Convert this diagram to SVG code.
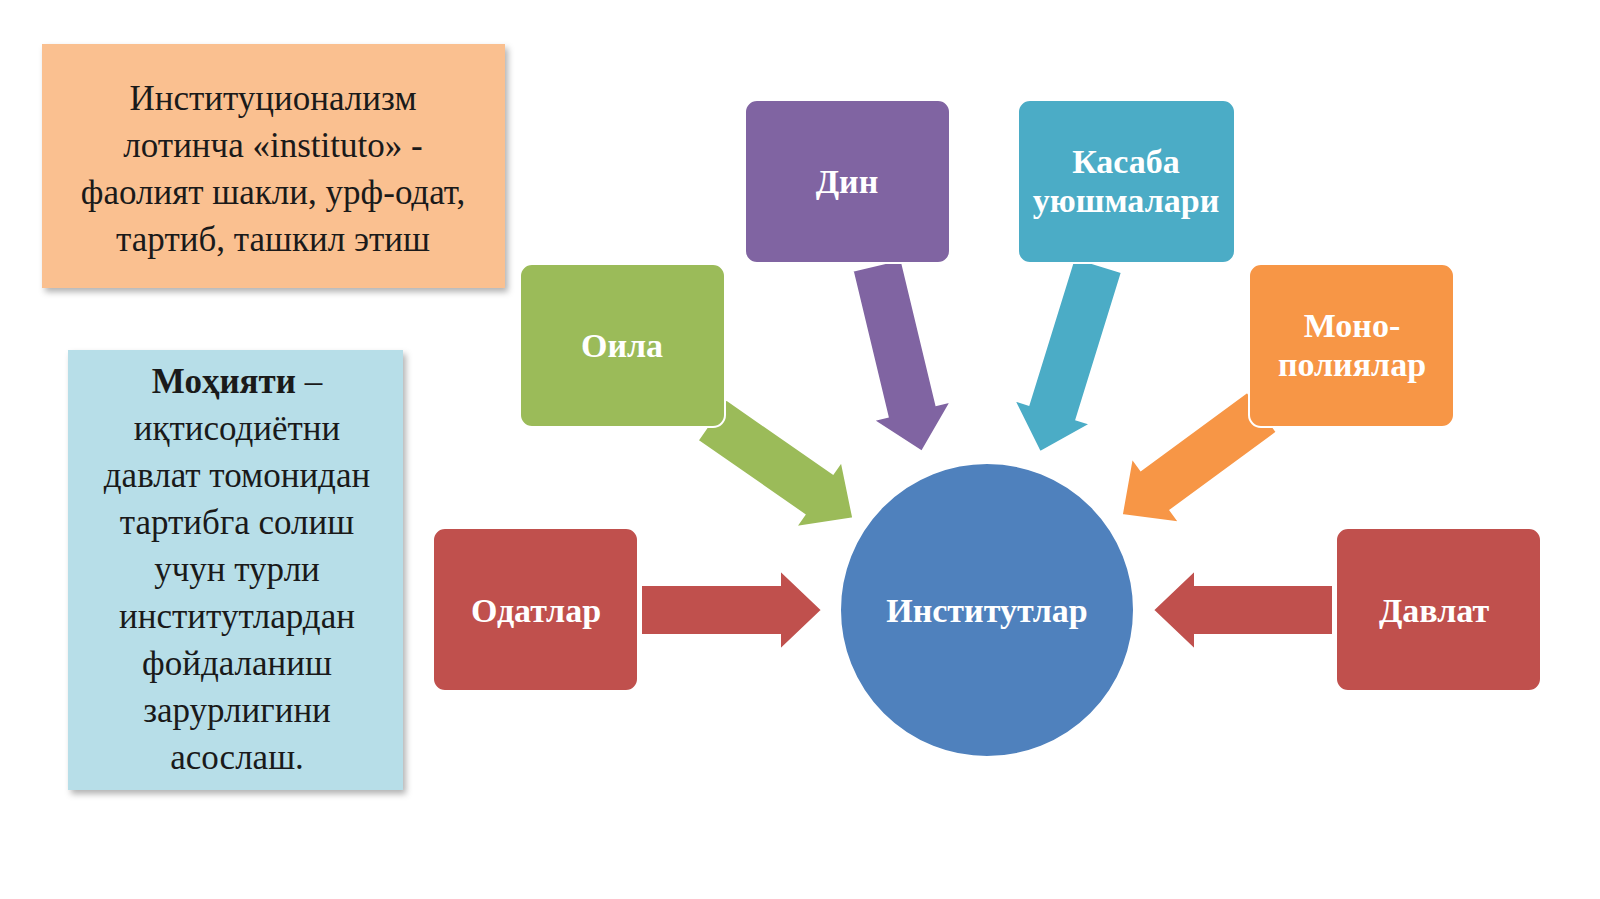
<svg xmlns="http://www.w3.org/2000/svg" width="1600" height="899" viewBox="0 0 1600 899">
<defs>
<style>
.t{font-family:"Liberation Serif",serif;text-anchor:middle}
.big{font-size:35px;fill:#1a1a1a}
.w{font-size:34px;font-weight:bold;fill:#fff}
.nb{stroke:#fff;stroke-width:2}
</style>
<filter id="sh" x="-10%" y="-10%" width="130%" height="130%"><feDropShadow dx="3" dy="4" stdDeviation="3" flood-color="#000" flood-opacity="0.3"/></filter>
</defs>
<rect width="1600" height="899" fill="#fff"/>
<g id="connectors">
<path d="M0,-25 H130 V-40 L172,0 L130,40 V25 H0 Z" fill="#9BBB59" stroke="#fff" stroke-width="2" transform="translate(712,420) rotate(34.8)"/>
<path d="M0,-25 H150 V-40 L192,0 L150,40 V25 H0 Z" fill="#8064A2" stroke="#fff" stroke-width="2" transform="translate(877,265) rotate(76.5)"/>
<path d="M0,-25 H154 V-40 L196,0 L154,40 V25 H0 Z" fill="#4BACC6" stroke="#fff" stroke-width="2" transform="translate(1098,265) rotate(107.2)"/>
<path d="M0,-25 H132 V-40 L174,0 L132,40 V25 H0 Z" fill="#F79646" stroke="#fff" stroke-width="2" transform="translate(1262,412) rotate(143.7)"/>
<path d="M641,585 H780 V570 L822,610 L780,650 V635 H641 Z" fill="#C0504D" stroke="#fff" stroke-width="2"/>
<path d="M1333,585 H1195 V570 L1153,610 L1195,650 V635 H1333 Z" fill="#C0504D" stroke="#fff" stroke-width="2"/>
</g>
<g id="def-box">
<rect x="42" y="44" width="463" height="244" fill="#FAC090" filter="url(#sh)"/>
<text class="t big" x="273" y="110">Институционализм</text>
<text class="t big" x="273" y="157">лотинча «instituto» -</text>
<text class="t big" x="273" y="204">фаолият шакли, урф-одат,</text>
<text class="t big" x="273" y="251">тартиб, ташкил этиш</text>
</g>
<g id="essence-box">
<rect x="68" y="350" width="335" height="440" fill="#B7DEE8" filter="url(#sh)"/>
<text class="t big" x="237" y="393"><tspan font-weight="bold">Моҳияти</tspan> –</text>
<text class="t big" x="237" y="440">иқтисодиётни</text>
<text class="t big" x="237" y="487">давлат томонидан</text>
<text class="t big" x="237" y="534">тартибга солиш</text>
<text class="t big" x="237" y="581">учун турли</text>
<text class="t big" x="237" y="628">институтлардан</text>
<text class="t big" x="237" y="675">фойдаланиш</text>
<text class="t big" x="237" y="722">зарурлигини</text>
<text class="t big" x="237" y="769">асослаш.</text>
</g>
<g id="oila"><rect class="nb" x="520" y="264" width="205" height="163" rx="12" fill="#9BBB59"/><text class="t w" x="622" y="357">Оила</text></g>
<g id="din"><rect class="nb" x="745" y="100" width="205" height="163" rx="12" fill="#8064A2"/><text class="t w" x="847" y="193">Дин</text></g>
<g id="kasaba"><rect class="nb" x="1018" y="100" width="217" height="163" rx="12" fill="#4BACC6"/><text class="t w" x="1126" y="173">Касаба</text><text class="t w" x="1126" y="212">уюшмалари</text></g>
<g id="mono"><rect class="nb" x="1249" y="264" width="205" height="163" rx="12" fill="#F79646"/><text class="t w" x="1352" y="337">Моно-</text><text class="t w" x="1352" y="376">полиялар</text></g>
<g id="odatlar"><rect class="nb" x="433" y="528" width="205" height="163" rx="12" fill="#C0504D"/><text class="t w" x="536" y="622">Одатлар</text></g>
<g id="davlat"><rect class="nb" x="1336" y="528" width="205" height="163" rx="12" fill="#C0504D"/><text class="t w" x="1434" y="622">Давлат</text></g>
<g id="institutlar"><circle class="nb" cx="987" cy="610" r="147" fill="#4F81BD"/><text class="t w" x="987" y="622">Институтлар</text></g>
</svg>
